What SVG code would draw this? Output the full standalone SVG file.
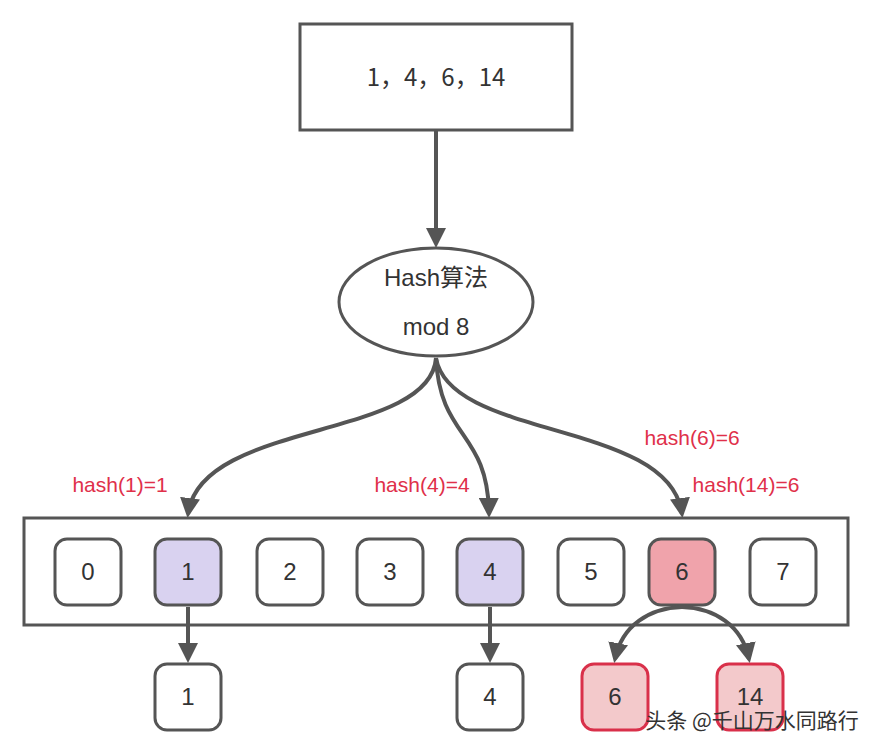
<svg xmlns="http://www.w3.org/2000/svg" width="882" height="754" viewBox="0 0 882 754">
<defs>
<marker id="ah" viewBox="0 0 10 10" refX="8" refY="5" markerWidth="5" markerHeight="5" orient="auto" markerUnits="strokeWidth"><path d="M0,0 L10,5 L0,10 Z" fill="#555"/></marker>
<style>
.b{fill:#fff;stroke:#555;stroke-width:3}
.t{font-family:"Liberation Sans","Noto Sans CJK SC",sans-serif;font-size:24px;fill:#333;text-anchor:middle}
.l{font-family:"Liberation Sans",sans-serif;font-size:21px;fill:#e0304a;text-anchor:middle}
.c{fill:none;stroke:#555;stroke-width:4;marker-end:url(#ah)}
</style>
</defs>
<rect width="882" height="754" fill="#fff"/>
<g id="input"><rect class="b" x="300" y="24" width="272" height="106"/><text class="t" x="436" y="86" style="font-family:'Noto Sans CJK SC',sans-serif">1，4，6，14</text></g>
<g id="hash"><ellipse class="b" cx="436" cy="302" rx="97" ry="54"/><text class="t" x="436" y="286">Hash算法</text><text class="t" x="436" y="335">mod 8</text></g>
<g id="table"><rect class="b" x="24" y="518" width="824" height="107"/></g>
<g id="slots">
<g id="s0"><rect class="b" x="55" y="539" width="66" height="66" rx="12"/><text class="t" x="88" y="580">0</text></g>
<g id="s1"><rect class="b" x="155" y="539" width="66" height="66" rx="12" style="fill:#d9d2f0"/><text class="t" x="188" y="580">1</text></g>
<g id="s2"><rect class="b" x="257" y="539" width="66" height="66" rx="12"/><text class="t" x="290" y="580">2</text></g>
<g id="s3"><rect class="b" x="357" y="539" width="66" height="66" rx="12"/><text class="t" x="390" y="580">3</text></g>
<g id="s4"><rect class="b" x="457" y="539" width="66" height="66" rx="12" style="fill:#d9d2f0"/><text class="t" x="490" y="580">4</text></g>
<g id="s5"><rect class="b" x="558" y="539" width="66" height="66" rx="12"/><text class="t" x="591" y="580">5</text></g>
<g id="s6"><rect class="b" x="649" y="539" width="66" height="66" rx="12" style="fill:#f0a3ab"/><text class="t" x="682" y="580">6</text></g>
<g id="s7"><rect class="b" x="750" y="539" width="66" height="66" rx="12"/><text class="t" x="783" y="580">7</text></g>
</g>
<g id="out1"><rect class="b" x="155" y="664" width="66" height="66" rx="12"/><text class="t" x="188" y="705">1</text></g>
<g id="out4"><rect class="b" x="457" y="664" width="66" height="66" rx="12"/><text class="t" x="490" y="705">4</text></g>
<g id="out6"><rect class="b" x="582" y="664" width="66" height="66" rx="12" style="fill:#f3c9cb;stroke:#d9304a"/><text class="t" x="615" y="705">6</text></g>
<g id="out14"><rect class="b" x="717" y="664" width="66" height="66" rx="12" style="fill:#f3c9cb;stroke:#d9304a"/><text class="t" x="750" y="705">14</text></g>
<g id="connectors">
<path class="c" d="M436,130 L436,244"/>
<path class="c" d="M436,358 C430,440 200,420 188,514"/>
<path class="c" d="M436,358 C440,440 488,430 489,514"/>
<path class="c" d="M436,358 C450,440 670,420 682,514"/>
<path class="c" d="M188,607 L188,659"/>
<path class="c" d="M490,607 L490,659"/>
<path class="c" d="M682,607 C650,608 622,625 615,659"/>
<path class="c" d="M682,607 C714,608 742,625 749,659"/>
</g>
<g id="labels">
<text class="l" x="120" y="492">hash(1)=1</text>
<text class="l" x="422" y="492">hash(4)=4</text>
<text class="l" x="692" y="445">hash(6)=6</text>
<text class="l" x="746" y="492">hash(14)=6</text>
</g>
<text x="752" y="728" style="font-family:'Noto Sans CJK SC',sans-serif;font-size:21px;fill:#333;text-anchor:middle">头条 @千山万水同路行</text>
</svg>
